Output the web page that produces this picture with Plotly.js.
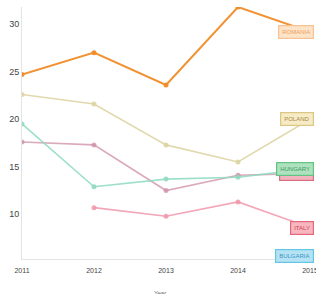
<!DOCTYPE html>
<html>
<head>
<meta charset="utf-8">
<script src="https://cdn.plot.ly/plotly-3.0.1.min.js"></script>
<style>
  html, body { margin: 0; padding: 0; background: #ffffff; }
  #chart { width: 316px; height: 294px; }
</style>
</head>
<body>
<div id="chart"></div>
<script>
// Years on the horizontal axis
const years = [2011, 2012, 2013, 2014, 2015];

// Series values per country (null = no data for that year)
const romania  = [24.7, 27.0, 23.6, 31.8, 29.2];
const poland   = [22.6, 21.6, 17.3, 15.5, 20.0];
const hungary  = [19.5, 12.9, 13.7, 13.9, 14.8];
const croatia  = [17.6, 17.3, 12.5, 14.1, 14.3];
const italy    = [null, 10.7, 9.8, 11.3, 8.6];
const bulgaria = [null, null, null, null, 5.6];

const names = ['ROMANIA', 'POLAND', 'CROATIA', 'HUNGARY', 'ITALY', 'BULGARIA'];

const FONT = 'Liberation Sans Narrow, Arial Narrow, Liberation Sans, sans-serif';

// line colour, line width, label fill, label border, label text
const styles = {
  ROMANIA:  { line: 'rgba(240,140,40,0.95)', w: 2,   fill: '#fde3c8', border: '#f7c392', text: '#f0a05a' },
  POLAND:   { line: 'rgba(220,210,160,0.85)', w: 1.6, fill: '#f6ebc4', border: '#dcc684', text: '#a88a48' },
  CROATIA:  { line: 'rgba(205,140,165,0.75)', w: 1.6, fill: '#f3b3bf', border: '#d8707f', text: '#c84858' },
  HUNGARY:  { line: 'rgba(140,218,190,0.85)', w: 1.6, fill: '#aee2bf', border: '#62c383', text: '#3d9a5d' },
  ITALY:    { line: 'rgba(240,150,170,0.85)', w: 1.6, fill: '#f8b6bf', border: '#e2687a', text: '#d24458' },
  BULGARIA: { line: 'rgba(120,200,235,0.85)', w: 1.6, fill: '#b6e3f3', border: '#66c6e6', text: '#3b95c4' }
};

const seriesData = {
  ROMANIA: romania, POLAND: poland, CROATIA: croatia,
  HUNGARY: hungary, ITALY: italy, BULGARIA: bulgaria
};

const traces = names.map(n => ({
  x: years,
  y: seriesData[n],
  name: n,
  type: 'scatter',
  mode: 'lines+markers',
  connectgaps: false,
  line: { color: styles[n].line, width: styles[n].w },
  marker: { color: styles[n].line, size: 5 },
  hoverinfo: 'skip'
}));

// End-of-line name tags, placed at each series' last value
const annotations = names.map(n => {
  const vals = seriesData[n];
  return {
    xref: 'x', yref: 'y',
    x: years[years.length - 1],
    y: vals[vals.length - 1],
    xanchor: 'right', yanchor: 'middle',
    xshift: 4,
    yshift: n === 'CROATIA' ? -1 : 0,
    text: n,
    showarrow: false,
    font: { family: FONT, size: 6, color: styles[n].text },
    bgcolor: styles[n].fill,
    bordercolor: styles[n].border,
    borderwidth: 1.2,
    borderpad: 3
  };
});

// Axis title placed under the year ticks
annotations.push({
  xref: 'paper', yref: 'paper',
  x: 0.48, y: -0.115,
  xanchor: 'center', yanchor: 'top',
  text: 'Year', showarrow: false,
  font: { family: FONT, size: 6, color: '#666666' }
});

const layout = {
  width: 316, height: 294,
  margin: { l: 22, r: 6, t: 7, b: 35 },
  paper_bgcolor: '#ffffff',
  plot_bgcolor: '#ffffff',
  showlegend: false,
  xaxis: {
    range: [2011, 2015],
    tickvals: years,
    ticktext: years.map(String),
    ticklabeloverflow: 'allow',
    ticklabelstandoff: 5,
    showgrid: false,
    zeroline: false,
    showline: true,
    linecolor: '#e4e4e4',
    linewidth: 1,
    ticks: '',
    ticklen: 0,
    tickfont: { family: FONT, size: 7, color: '#444444' }
  },
  yaxis: {
    range: [5.3, 31.8],
    tickvals: [10, 15, 20, 25, 30],
    showgrid: false,
    zeroline: false,
    showline: true,
    linecolor: '#e4e4e4',
    linewidth: 1,
    ticks: '',
    tickfont: { family: FONT, size: 9, color: '#444444' }
  },
  annotations: annotations
};

Plotly.newPlot('chart', traces, layout, { displayModeBar: false, staticPlot: true });
</script>
</body>
</html>
